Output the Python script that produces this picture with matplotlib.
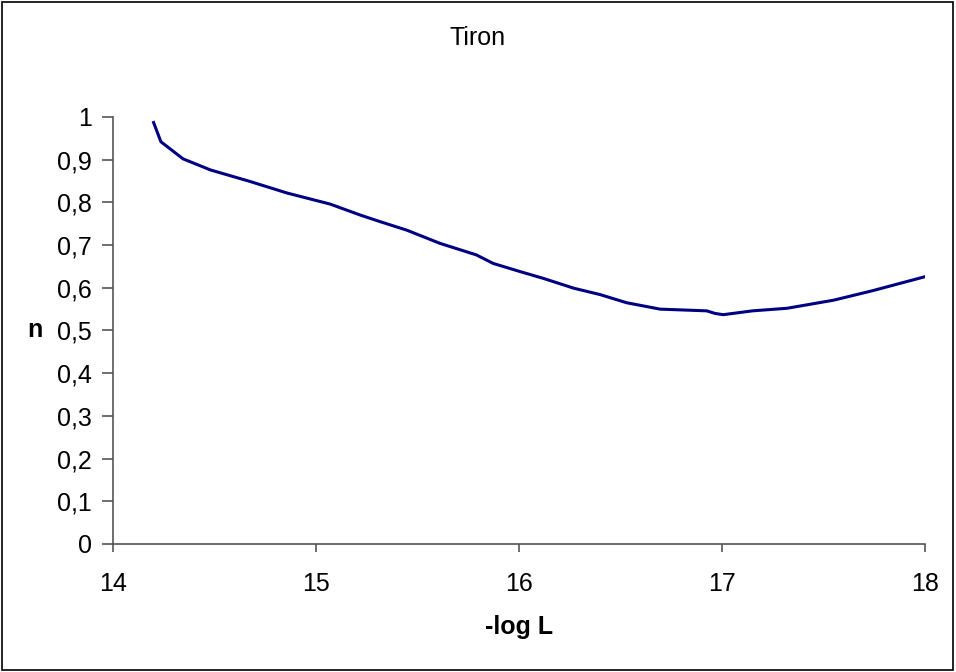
import matplotlib.pyplot as plt
from matplotlib.patches import Rectangle

plt.rcParams['font.family'] = ['Liberation Sans', 'DejaVu Sans']

# -log L vs n
log_l = [14.20, 14.236, 14.345, 14.48, 14.675, 14.857, 15.07, 15.22, 15.315,
         15.447, 15.611, 15.79, 15.873, 16.005, 16.12, 16.27, 16.40, 16.53,
         16.695, 16.925, 16.965, 17.006, 17.15, 17.32, 17.55, 17.74, 18.0]
n_vals = [0.987, 0.942, 0.902, 0.876, 0.849, 0.822, 0.796, 0.770, 0.755,
          0.735, 0.704, 0.677, 0.657, 0.638, 0.622, 0.599, 0.584, 0.565,
          0.550, 0.546, 0.540, 0.537, 0.546, 0.552, 0.571, 0.593, 0.626]

x_ticks = [14, 15, 16, 17, 18]
y_ticks = [i / 10 for i in range(11)]
y_labels = ['0'] + [('%.1f' % v).replace('.', ',') for v in y_ticks[1:-1]] + ['1']

fig = plt.figure(figsize=(9.56, 6.72), dpi=100)
ax = fig.add_axes([0.1182, 0.1905, 0.8494, 0.6354])

ax.plot(log_l, n_vals, color='#000080', linewidth=2.2)

ax.set_xlim(14, 18)
ax.set_ylim(0, 1)
ax.set_xticks(x_ticks)
ax.set_xticklabels([str(t) for t in x_ticks])
ax.set_yticks(y_ticks)
ax.set_yticklabels(y_labels)

for side in ['top', 'right']:
    ax.spines[side].set_visible(False)
for side in ['left', 'bottom']:
    ax.spines[side].set_color('#555555')
    ax.spines[side].set_linewidth(1.2)
ax.tick_params(axis='both', direction='out', color='#555555', width=1.2,
               length=8, labelsize=18)
ax.tick_params(axis='x', pad=14, length=6)
ax.tick_params(axis='y', pad=7)

ax.set_xlabel('-log L', fontsize=18, fontweight='bold', labelpad=14)
ax.set_ylabel('n', fontsize=18, fontweight='bold', rotation=0, labelpad=16,
              va='center')
fig.text(0.5, 0.944, 'Tiron', ha='center', va='center', fontsize=18)

fig.patches.append(Rectangle((0.002, 0.003), 0.995, 0.994, transform=fig.transFigure,
                             fill=False, edgecolor='black', linewidth=1.2))

fig.savefig('out.png', dpi=100)
